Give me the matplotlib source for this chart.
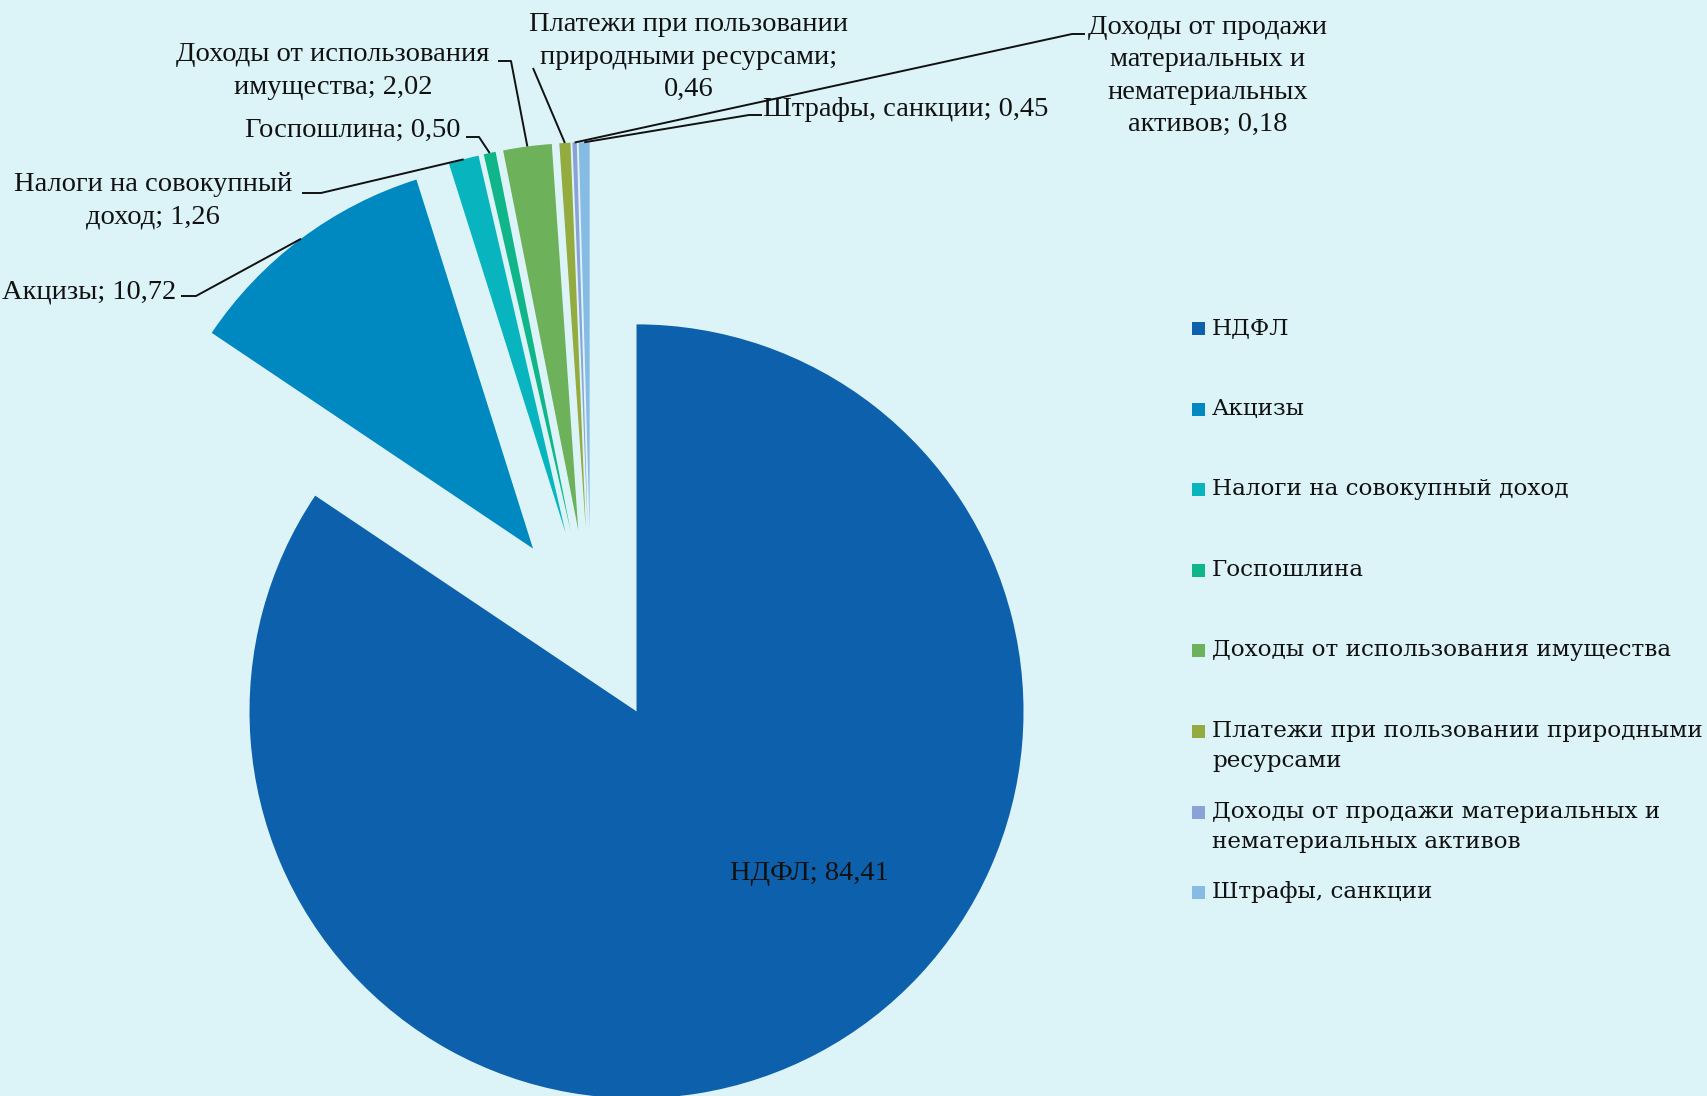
import numpy as np
import matplotlib.pyplot as plt
from matplotlib.patches import Rectangle

W, H = 1708, 1096

names = ["НДФЛ", "Акцизы", "Налоги на совокупный доход", "Госпошлина",
         "Доходы от использования имущества",
         "Платежи при пользовании природными ресурсами",
         "Доходы от продажи материальных и нематериальных активов",
         "Штрафы, санкции"]
values = [84.41, 10.72, 1.26, 0.50, 2.02, 0.46, 0.18, 0.45]
colors = ["#0D60AC", "#0089C0", "#08B5BF", "#10B68A",
          "#6DB25A", "#93AB3F", "#8AA2D8", "#86BBE3"]

# how the data labels / legend entries are broken into lines
label_names = ["НДФЛ", "Акцизы", "Налоги на совокупный\nдоход", "Госпошлина",
               "Доходы от использования\nимущества",
               "Платежи при пользовании\nприродными ресурсами",
               "Доходы от продажи\nматериальных и\nнематериальных\nактивов",
               "Штрафы, санкции"]
label_seps = ["; ", "; ", "; ", "; ", "; ", ";\n", "; ", "; "]
legend_names = ["НДФЛ", "Акцизы", "Налоги на совокупный доход", "Госпошлина",
                "Доходы от использования имущества",
                "Платежи при пользовании природными\nресурсами",
                "Доходы от продажи материальных и\nнематериальных активов",
                "Штрафы, санкции"]

# label layout in pixels (x, y from top)
label_pos = [(809, 874), (176, 292), (153, 201), (461, 130),
             (333, 71), (689, 57), (1208, 76), (763, 110)]
label_ha = ["center", "right", "center", "right",
            "center", "center", "center", "left"]
leaders = [None,
           [(181, 296), (196, 296)],
           [(302, 193), (321, 193)],
           [(466, 137), (479, 137)],
           [(498, 61), (511, 61)],
           [(533, 68)],
           [(1085, 34), (1072, 34)],
           [(762, 115), (749, 115)]]

BG = "#DCF4F8"
LBL_FONT = ["Liberation Serif", "DejaVu Serif"]
LEG_FONT = ["DejaVu Serif"]


def fmt(v):
    return f"{v:.2f}".replace(".", ",")


def main():
    fig = plt.figure(figsize=(W / 100, H / 100), dpi=100)
    fig.patch.set_facecolor(BG)
    ax = fig.add_axes([0, 0, 1, 1])
    ax.set_facecolor(BG)

    radius = 387
    cx, cy = 591, H - 626
    wedges, _ = ax.pie(values, colors=colors, startangle=90, counterclock=False,
                       radius=radius, center=(cx, cy),
                       explode=[0.25 * radius] * len(values),
                       wedgeprops=dict(linewidth=0), frame=True)
    ax.set_xlim(0, W)
    ax.set_ylim(0, H)
    ax.set_aspect("auto")
    ax.axis("off")

    #============ data labels + leader lines ============#
    for i, w in enumerate(wedges):
        txt = label_names[i] + label_seps[i] + fmt(values[i])
        x, y = label_pos[i]
        ax.text(x, H - y, txt, ha=label_ha[i], va="center", ma="center",
                fontsize=20.5, family=LBL_FONT, color="#111111",
                linespacing=1.4)
        if leaders[i] is None:
            continue
        tm = np.deg2rad(0.5 * (w.theta1 + w.theta2))
        ex = w.center[0] + w.r * np.cos(tm)
        ey = w.center[1] + w.r * np.sin(tm)
        xs = [p[0] for p in leaders[i]] + [ex]
        ys = [H - p[1] for p in leaders[i]] + [ey]
        ax.plot(xs, ys, color="#111111", lw=1.4, solid_capstyle="butt")

    #============ legend ============#
    y0, step = 328, 80.6
    for i, nm in enumerate(legend_names):
        yc = H - (y0 + i * step)
        ax.add_patch(Rectangle((1192, yc - 7), 13, 13, color=colors[i], lw=0))
        ax.text(1212, yc + 11, nm, ha="left", va="top", fontsize=16.7,
                family=LEG_FONT, color="#111111", linespacing=1.5)

    plt.savefig("out.png", dpi=100, facecolor=BG)


if __name__ == "__main__":
    main()
